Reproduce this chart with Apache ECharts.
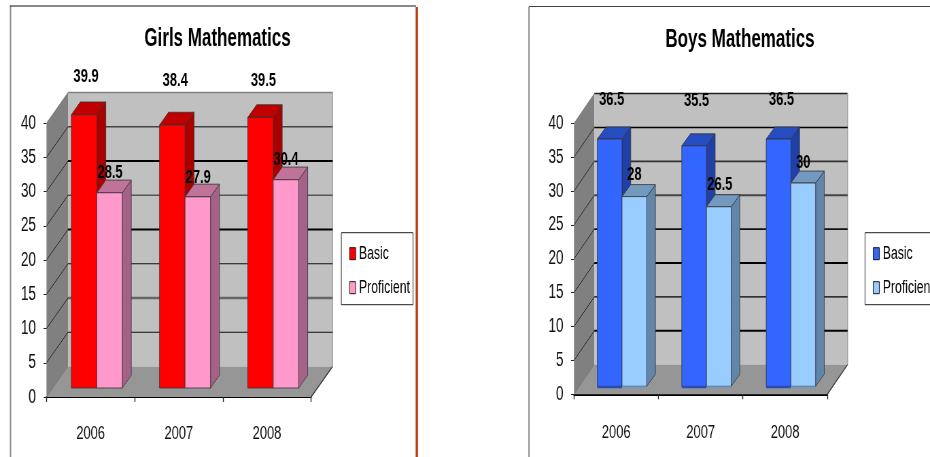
<!DOCTYPE html>
<html>
<head>
<meta charset="utf-8">
<style>
html,body{margin:0;padding:0;background:#fff;overflow:hidden}
#frame{width:930px;height:457px;overflow:hidden}
/* The slide's charts use a condensed face: the drawing surface is laid out wide and narrowed here */
#chart{width:1368px;height:457px;transform:scaleX(0.67982);transform-origin:0 0}
</style>
<script src="https://cdn.jsdelivr.net/npm/echarts@6/dist/echarts.min.js"></script>
</head>
<body>
<div id="frame"><div id="chart"></div></div>
<script>
// Mathematics results by year
const years = ['2006', '2007', '2008'];
const girlsBasic = [39.9, 38.4, 39.5];
const girlsProficient = [28.5, 27.9, 30.4];
const boysBasic = [36.5, 35.5, 36.5];
const boysProficient = [28, 26.5, 30];
const wallLines = [5, 10, 15, 20, 25, 30, 35];

const FONT = '"Liberation Sans", Arial, sans-serif';
const NARROW = 930 / 1368;
const X = v => v / NARROW; // on-screen horizontal pixels to surface units

// Look of each panel: box placement, pseudo-3D depth and per-gridline pens
const panels = [
  {
    title: 'Girls Mathematics', titleX: 217.5, titleY: 27, yearMargin: 27,
    grid: { left: X(46.5), top: 123, width: X(264.6), height: 274 },
    wall: { dx: 21.5, dy: 30.5 }, bar: { dx: 6.2, dy: 9, depthX: 9, depthY: 12.7, width: 0.578, strip: 0 },
    legend: { left: 341.3, top: 232.7 },
    rim: '#808080',
    pens: { 5: ['#111', 1], 10: ['#666', 2.5], 15: ['#111', 1], 20: ['#000', 2], 25: ['#555', 1.6], 30: ['#000', 2], 35: ['#444', 1.6] },
    series: [
      { name: 'Girls Basic', values: girlsBasic, front: '#ff0000', top: '#c00000', side: '#aa0000',
        nudge: [[2, 38], [3, 44], [3, 36.5]] },
      { name: 'Girls Proficient', values: girlsProficient, front: '#ff99cc', top: '#bf7399', side: '#a36286',
        nudge: [[0.5, 20], [0.5, 19], [0, 20]] }
    ]
  },
  {
    title: 'Boys Mathematics', titleX: 740, titleY: 28, yearMargin: 29,
    grid: { left: X(574), top: 123.3, width: X(253.3), height: 271 },
    wall: { dx: 20.3, dy: 29.7 }, bar: { dx: 5.8, dy: 8, depthX: 8.7, depthY: 12, width: 0.585, strip: 2 },
    legend: { left: 865, top: 232.7 },
    rim: '#222',
    pens: { 5: ['#000', 2], 10: ['#000', 1.4], 15: ['#000', 2], 20: ['#111', 1.6], 25: ['#444', 1.8], 30: ['#333', 1.8], 35: ['#000', 1.3] },
    series: [
      { name: 'Boys Basic', values: boysBasic, front: '#3366ff', top: '#264dbf', side: '#2040a8',
        nudge: [[2, 39], [2.5, 45.5], [3, 39]] },
      { name: 'Boys Proficient', values: boysProficient, front: '#99ccff', top: '#7399bf', side: '#6285aa',
        nudge: [[0, 21.5], [1, 21.5], [0, 20]] }
    ]
  }
];

const poly = (points, fill, stroke, lineWidth) => ({
  type: 'polygon',
  shape: { points },
  style: { fill, stroke: stroke || null, lineWidth: lineWidth || 0 }
});
const seg = (x1, y1, x2, y2, stroke, lineWidth) => ({
  type: 'line',
  shape: { x1, y1, x2, y2 },
  style: { stroke, lineWidth, fill: null }
});

// Side wall, back wall, floor and the gridlines that wrap round them
function wallSeries(panel, idx) {
  const dx = X(panel.wall.dx);
  const dy = panel.wall.dy;
  return {
    type: 'custom', silent: true, xAxisIndex: idx, yAxisIndex: idx, z: 1,
    data: [[0, 0]], encode: { x: 0, y: 1 },
    renderItem(params, api) {
      const [x0, y0] = api.coord([0, 0]);
      const yTop = api.coord([0, 40])[1];
      const band = api.size([1, 0])[0];
      const xL = x0 - band / 2;
      const xR = xL + band * 3;
      const children = [
        poly([[xL, yTop], [xL + dx, yTop - dy], [xL + dx, y0 - dy], [xL, y0]], '#808080'),
        poly([[xL + dx, yTop - dy], [xR + dx, yTop - dy], [xR + dx, y0 - dy], [xL + dx, y0 - dy]], '#c0c0c0'),
        poly([[xL, y0], [xL + dx, y0 - dy], [xR + dx, y0 - dy], [xR, y0]], '#969696'),
        seg(xL + dx, yTop - dy, xR + dx, yTop - dy, panel.rim, 1.5),
        seg(xL, yTop, xL + dx, yTop - dy, '#666', 0.6),
        seg(xR + dx, yTop - dy, xR + dx, y0 - dy, '#a0a0a0', 1.4),
        seg(xR, y0, xR + dx, y0 - dy, '#333', 1.2),
        seg(xL, y0, xL + dx, y0 - dy, '#555', 0.6)
      ];
      wallLines.forEach(v => {
        const y = api.coord([0, v])[1];
        const pen = panel.pens[v];
        children.push(seg(xL, y, xL + dx, y - dy, '#111', 0.9));
        children.push(seg(xL + dx, y - dy, xR + dx, y - dy, pen[0], pen[1]));
      });
      return { type: 'group', children };
    }
  };
}

// One box per year: front, side and top faces plus its value label
function barSeries(panel, idx, s, k) {
  const b = panel.bar;
  const depthX = X(b.depthX);
  return {
    type: 'custom', name: s.name, xAxisIndex: idx, yAxisIndex: idx, z: 2 + k,
    itemStyle: { color: s.front },
    data: s.values.map((v, i) => [years[i], v]),
    encode: { x: 0, y: 1 },
    renderItem(params, api) {
      const i = api.value(0);
      const value = api.value(1);
      const band = api.size([1, 0])[0];
      const [cx, yZero] = api.coord([i, 0]);
      const yt = api.coord([i, value])[1] - b.dy;
      const yb = yZero - b.dy;
      const w = band * b.width / 2;
      const xa = cx - w + k * w + X(b.dx);
      const xb = xa + w;
      const line = '#333';
      const children = [
        poly([[xb, yt], [xb + depthX, yt - b.depthY], [xb + depthX, yb - b.depthY], [xb, yb]], s.side, line, 0.8),
        poly([[xa, yt], [xa + depthX, yt - b.depthY], [xb + depthX, yt - b.depthY], [xb, yt]], s.top, line, 0.8),
        poly([[xa, yt], [xb, yt], [xb, yb], [xa, yb]], s.front, line, 0.8)
      ];
      if (b.strip) {
        children.push(poly([[xa, yb], [xb, yb], [xb, yb + b.strip], [xa, yb + b.strip]], s.top));
      }
      const [nx, lift] = s.nudge[i];
      children.push({
        type: 'text', z2: 100,
        style: {
          x: (xa + xb) / 2 + X(nx), y: yt - lift,
          text: String(value), align: 'center', verticalAlign: 'middle',
          font: 'bold 19px ' + FONT, fill: '#000'
        }
      });
      return { type: 'group', children };
    }
  };
}

const option = {
  animation: false,
  backgroundColor: '#fff',
  title: panels.map(p => ({
    text: p.title, left: X(p.titleX), top: p.titleY, padding: 0, textAlign: 'center',
    textStyle: { fontFamily: FONT, fontWeight: 'bold', fontSize: 25, color: '#000' }
  })),
  grid: panels.map(p => p.grid),
  xAxis: panels.map((p, idx) => ({
    type: 'category', gridIndex: idx, data: years,
    axisLine: { show: true, lineStyle: { color: '#000', width: 2 } },
    axisTick: { show: true, length: 5, lineStyle: { color: '#222', width: 1.4 } },
    axisLabel: { margin: p.yearMargin, fontFamily: FONT, fontSize: 19, color: '#111' },
    splitLine: { show: false }
  })),
  yAxis: panels.map((p, idx) => ({
    type: 'value', gridIndex: idx, min: 0, max: 40, interval: 5,
    axisLine: { show: false },
    axisTick: { show: true, length: X(3), lineStyle: { color: '#222', width: 1 } },
    axisLabel: { margin: X(10.5), fontFamily: FONT, fontSize: 20, color: '#111' },
    splitLine: { show: false }
  })),
  legend: panels.map(p => ({
    orient: 'vertical', left: X(p.legend.left), top: p.legend.top,
    padding: [12, X(3), 8, X(8)], itemGap: 16, itemWidth: X(6), itemHeight: 12,
    backgroundColor: '#fff', borderColor: '#222', borderWidth: 1,
    selectedMode: false, icon: 'rect',
    itemStyle: { borderColor: '#000', borderWidth: 0.9 },
    data: p.series.map(s => s.name),
    formatter: n => n.split(' ')[1],
    textStyle: { fontFamily: FONT, fontSize: 18, color: '#000' }
  })),
  series: panels.flatMap((p, idx) => [
    wallSeries(p, idx),
    ...p.series.map((s, k) => barSeries(p, idx, s, k))
  ]),
  graphic: [
    { type: 'line', silent: true, shape: { x1: X(10.5), y1: 6, x2: X(10.5), y2: 457 }, style: { stroke: '#909090', lineWidth: 2.2 } },
    { type: 'line', silent: true, shape: { x1: X(10), y1: 6, x2: X(416), y2: 6 }, style: { stroke: '#111', lineWidth: 1 } },
    { type: 'line', silent: true, shape: { x1: X(415.5), y1: 7, x2: X(415.5), y2: 457 }, style: { stroke: '#b0b0b0', lineWidth: 1.4 } },
    { type: 'line', silent: true, shape: { x1: X(417), y1: 7, x2: X(417), y2: 457 }, style: { stroke: '#c63c10', lineWidth: 3 } },
    { type: 'line', silent: true, shape: { x1: X(529), y1: 6.5, x2: X(529), y2: 457 }, style: { stroke: '#808080', lineWidth: 1.8 } },
    { type: 'line', silent: true, shape: { x1: X(529), y1: 6.5, x2: X(930), y2: 6.5 }, style: { stroke: '#444', lineWidth: 1 } }
  ]
};

echarts.init(document.getElementById('chart'), null, { renderer: 'canvas' }).setOption(option);
</script>
</body>
</html>
